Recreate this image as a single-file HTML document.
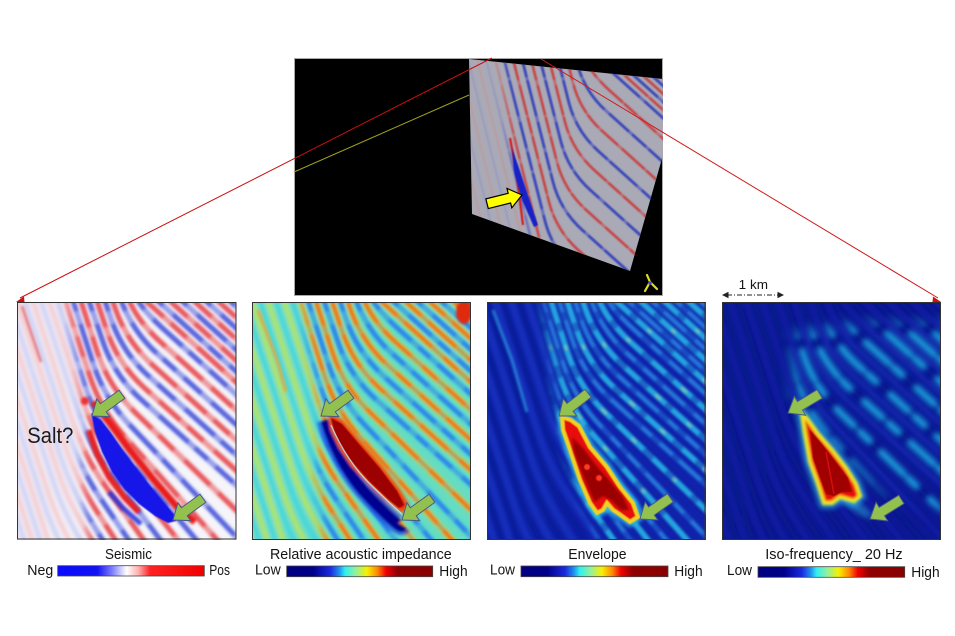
<!DOCTYPE html>
<html><head><meta charset="utf-8"><style>
html,body{margin:0;padding:0;background:#fff;}
svg{display:block;}
text{font-family:"Liberation Sans",Arial,sans-serif;fill:#141414;}
</style></head><body>
<svg width="955" height="636" viewBox="0 0 955 636" xmlns="http://www.w3.org/2000/svg" xmlns:xlink="http://www.w3.org/1999/xlink">
<defs>
 <filter id="b05" x="-20%" y="-20%" width="140%" height="140%"><feGaussianBlur stdDeviation="0.6"/></filter>
 <filter id="b08" x="-20%" y="-20%" width="140%" height="140%"><feGaussianBlur stdDeviation="0.8"/></filter>
 <filter id="b1" x="-20%" y="-20%" width="140%" height="140%"><feGaussianBlur stdDeviation="1.3"/></filter>
 <filter id="b2" x="-20%" y="-20%" width="140%" height="140%"><feGaussianBlur stdDeviation="2"/></filter>
 <filter id="b3" x="-30%" y="-30%" width="160%" height="160%"><feGaussianBlur stdDeviation="3"/></filter>
 <filter id="b5" x="-30%" y="-30%" width="160%" height="160%"><feGaussianBlur stdDeviation="5"/></filter>
 <filter id="b7" x="-30%" y="-30%" width="160%" height="160%"><feGaussianBlur stdDeviation="7"/></filter>

 <clipPath id="pc"><rect x="0" y="0" width="219" height="238"/></clipPath>
 <clipPath id="cp"><polygon points="469,59 663,79 663,155 630,271 472,214"/></clipPath>

 <mask id="m1" maskUnits="userSpaceOnUse" x="-40" y="-40" width="300" height="320">
  <polygon points="46,-20 250,-20 250,260 74,260 64,175 68,112" fill="#fff" filter="url(#b5)"/>
 </mask>
 <mask id="m3" maskUnits="userSpaceOnUse" x="-40" y="-40" width="300" height="320">
  <polygon points="52,-20 250,-20 250,260 120,260 84,175 70,110" fill="#fff" filter="url(#b5)"/>
 </mask>
 <mask id="m4" maskUnits="userSpaceOnUse" x="-40" y="-40" width="300" height="320">
  <polygon points="70,32 120,22 240,22 240,205 205,212 150,180 105,135 72,100" fill="#fff" filter="url(#b7)"/>
 </mask>
 <mask id="mp" maskUnits="userSpaceOnUse" x="440" y="30" width="260" height="290">
  <polygon points="500,50 680,50 680,290 545,290 512,160" fill="#fff" filter="url(#b5)"/>
 </mask>

 <linearGradient id="gs" x1="0" y1="0" x2="1" y2="0">
  <stop offset="0" stop-color="#0a0aff"/><stop offset="0.27" stop-color="#1212f2"/>
  <stop offset="0.37" stop-color="#7c7cff"/><stop offset="0.47" stop-color="#ffffff"/>
  <stop offset="0.55" stop-color="#ffb0b0"/><stop offset="0.63" stop-color="#ff2222"/>
  <stop offset="1" stop-color="#f20000"/>
 </linearGradient>
 <linearGradient id="gj" x1="0" y1="0" x2="1" y2="0">
  <stop offset="0" stop-color="#00007f"/><stop offset="0.18" stop-color="#00008a"/>
  <stop offset="0.30" stop-color="#1a2ae0"/><stop offset="0.36" stop-color="#2090f0"/>
  <stop offset="0.40" stop-color="#30f0f0"/><stop offset="0.47" stop-color="#90f0a0"/>
  <stop offset="0.55" stop-color="#f8f000"/><stop offset="0.62" stop-color="#ff8a00"/>
  <stop offset="0.68" stop-color="#f00000"/><stop offset="0.76" stop-color="#900000"/>
  <stop offset="1" stop-color="#880000"/>
 </linearGradient>

 <g id="P" fill="none" stroke-linejoin="round" stroke-linecap="round">
  <path d="M-83 -10L3 250"/>
  <path d="M-67 -10L19 250"/>
  <path d="M-51 -10L35 250"/>
  <path d="M-35 -10L30.6 188.8Q42 223 61.1 253.6L82 287"/>
  <path d="M-19 -10L39.6 165.8Q51 200 70.1 230.6L111 296"/>
  <path d="M-3 -10L47.6 142.8Q59 177 78.5 207.3L139 301"/>
  <path d="M13 -10L55.6 119.8Q67 154 87.9 183.4L177 309"/>
  <path d="M29 -10L64.6 96.8Q76 131 98.4 159.2L226 320"/>
  <path d="M45 -10L72.6 73.8Q84 108 108 134.9L244 287"/>
  <path d="M61 -10L80.6 50.8Q92 85 117.8 110.1L252 240"/>
  <path d="M77 -10L89.6 27.8Q101 62 127.7 86.2L261 206"/>
  <path d="M93 -10L97.6 4.8Q109 39 135.7 63.2L269 183"/>
  <path d="M109 -10Q117 16 143.7 40.2L277 160"/>
  <path d="M119 -10L290 144"/>
  <path d="M143 -10L314 144"/>
  <path d="M167 -10L338 144"/>
  <path d="M191 -10L362 144"/>
 </g>
 <g id="N" fill="none" stroke-linejoin="round" stroke-linecap="round">
  <path d="M-75 -10L11 250"/>
  <path d="M-59 -10L27 250"/>
  <path d="M-43 -10L26.6 200.8Q38 235 57.1 265.6L68 283"/>
  <path d="M-27 -10L35.6 177.8Q47 212 66.1 242.6L97 292"/>
  <path d="M-11 -10L43.6 154.8Q55 189 74.1 219.6L125 301"/>
  <path d="M5 -10L51.6 131.8Q63 166 83.1 195.9L153 299"/>
  <path d="M21 -10L60.6 108.8Q72 143 93.6 171.8L202 316"/>
  <path d="M37 -10L68.6 85.8Q80 120 103.1 147.6L240 310"/>
  <path d="M53 -10L76.6 62.8Q88 97 112.9 123.1L248 265"/>
  <path d="M69 -10L85.6 38.8Q97 73 123.7 97.2L257 217"/>
  <path d="M85 -10L93.6 15.8Q105 50 131.7 74.2L265 194"/>
  <path d="M101 -10Q113 27 139.7 51.2L273 171"/>
  <path d="M117 -10Q121 4 147.7 28.2L281 148"/>
  <path d="M131 -10L302 144"/>
  <path d="M155 -10L326 144"/>
  <path d="M179 -10L350 144"/>
  <path d="M203 -10L374 144"/>
 </g>

 <g id="QP" fill="none" stroke-linejoin="round">
  <path d="M440 55L501 300"/><path d="M458 55L519 300"/><path d="M476 55L537 300"/>
  <path d="M494 55L539.7 239.9Q547 269 569.3 289.1L667 377"/>
  <path d="M512 55L548.7 200.9Q556 230 578.3 250.1L676 338"/>
  <path d="M530 55L556.7 160.9Q564 190 586.3 210.1L684 298"/>
  <path d="M548 55L564.7 120.9Q572 150 594.3 170.1L692 258"/>
  <path d="M566 55L572.7 81.9Q580 111 602.3 131.1L700 219"/>
  <path d="M584 55Q588 71 610.3 91.1L708 179"/>
  <path d="M602 55L722 163"/><path d="M620 55L740 163"/><path d="M638 55L758 163"/>
 </g>
 <g id="QN" fill="none" stroke-linejoin="round">
  <path d="M449 55L510 300"/><path d="M467 55L528 300"/><path d="M485 55L546 300"/>
  <path d="M503 55L544.7 219.9Q552 249 574.3 269.1L672 357"/>
  <path d="M521 55L552.7 180.9Q560 210 582.3 230.1L680 318"/>
  <path d="M539 55L560.7 140.9Q568 170 590.3 190.1L688 278"/>
  <path d="M557 55L568.7 101.9Q576 131 598.3 151.1L696 239"/>
  <path d="M575 55L576.7 61.9Q584 91 606.3 111.1L704 199"/>
  <path d="M593 55L713 163"/><path d="M611 55L731 163"/><path d="M629 55L749 163"/>
 </g>

 <polygon id="ga" points="0,0 -14,-11 -14,-5 -37,-5 -37,5 -14,5 -14,11"/>
 <polygon id="envblob" points="75,115 84,118 92,124 103,145 120,165 133,185 146,201 151,215 143,220 132,212 126,208 120,201 116,208 110,211 103,201 93,178 83,148 76,128"/>
 <polygon id="isoblob" points="80,111 86,118 96,132 110,148 124,166 134,182 138,194 132,199 118,195 110,201 102,201 96,182 88,160 83,132"/>
</defs>

<rect width="955" height="636" fill="#fff"/>

<!-- ============ TOP 3D VIEW ============ -->
<rect x="294.5" y="58.5" width="368" height="237" fill="#000" stroke="#a8a8a8" stroke-width="1"/>
<g clip-path="url(#cp)">
 <rect x="460" y="50" width="210" height="230" fill="#aaaab6"/>
 <g filter="url(#b08)">
  <use href="#QP" stroke="#c49494" stroke-width="2.2" opacity=".55"/>
  <use href="#QN" stroke="#9092c6" stroke-width="2.2" opacity=".55"/>
 </g>
 <g mask="url(#mp)"><g filter="url(#b08)">
  <use href="#QP" stroke="#c83030" stroke-width="2.6" opacity=".8"/>
  <use href="#QN" stroke="#2c3ab8" stroke-width="2.8" opacity=".85"/>
  <use href="#QP" stroke="#aaaab6" stroke-width="3" stroke-dasharray="3 23 5 31 2 17" opacity=".4"/>
  <use href="#QN" stroke="#aaaab6" stroke-width="3" stroke-dasharray="4 19 3 37 6 27" opacity=".4"/>
 </g></g>
 <path d="M510 138L516 170L523 225" stroke="#d81c1c" stroke-width="2.2" fill="none" filter="url(#b05)"/>
 <polygon points="512,148 518,165 528,195 538,225 534,227 522,200 514,172" fill="#1424c8" filter="url(#b05)"/>
</g>
<line x1="294" y1="172" x2="469" y2="95" stroke="#a0a020" stroke-width="1"/>
<line x1="20" y1="298" x2="492" y2="58" stroke="#c81010" stroke-width="1"/>
<line x1="541" y1="59" x2="938" y2="298" stroke="#d01818" stroke-width="1"/>
<polygon points="16,302 24,296.5 24.5,302" fill="#d01010"/>
<polygon points="941,302 933,296.5 932.5,302" fill="#d01010"/>
<polygon points="0,0 -13,-10 -13,-5 -36,-5 -36,5 -13,5 -13,10" transform="translate(522,195) rotate(-14)" fill="#ffff00" stroke="#000" stroke-width="1.2" stroke-linejoin="miter"/>
<g stroke="#e2dc20" stroke-width="2.2" stroke-linecap="round">
 <line x1="645" y1="291" x2="650" y2="282"/><line x1="650" y1="282" x2="657" y2="289"/><line x1="650" y1="282" x2="647" y2="275"/>
</g>
<circle cx="650" cy="283" r="1.8" fill="#4050d0"/>

<!-- ============ PANEL 1: SEISMIC ============ -->
<g transform="translate(17,302)">
 <g clip-path="url(#pc)">
  <rect width="219" height="238" fill="#f5f5fa"/>
  <g filter="url(#b2)">
   <use href="#P" stroke="#f2a8ac" stroke-width="4.5" opacity=".6"/>
   <use href="#N" stroke="#acb2ee" stroke-width="4.5" opacity=".6"/>
  </g>
  <g mask="url(#m1)"><g filter="url(#b1)">
   <use href="#P" stroke="#e43034" stroke-width="5" opacity=".75"/>
   <use href="#N" stroke="#3040d6" stroke-width="5" opacity=".75"/>
   <use href="#P" stroke="#f5f5fa" stroke-width="5.5" stroke-dasharray="6 34 4 27 9 41" opacity=".4"/>
   <use href="#N" stroke="#f5f5fa" stroke-width="5.5" stroke-dasharray="5 29 8 45 3 23" stroke-dashoffset="11" opacity=".4"/>
  </g></g>
  <g filter="url(#b1)">
   <path d="M5 4L24 60" stroke="#e04040" stroke-width="2.5" opacity=".7" fill="none"/>
   <path d="M76 100L92 120L112 147L136 177L160 205L178 220" stroke="#e81c1c" stroke-width="7" fill="none" stroke-linejoin="round"/>
   <path d="M72 128L80 152L92 175L108 196L122 210" stroke="#e82020" stroke-width="6" fill="none" stroke-linejoin="round"/>
   <path d="M92 190L106 206L124 222" stroke="#2030e0" stroke-width="5" opacity=".85" fill="none"/>
   <circle cx="68" cy="99" r="4" fill="#e83030"/>
  </g>
  <polygon points="74,111 84,118 94,131 105,147 118,164 132,182 146,199 157,212 159,219 151,221 138,214 122,202 107,187 95,170 85,150 78,130" fill="#1414e8" filter="url(#b05)"/>
 </g>
 <rect x="0.5" y="0.5" width="218.5" height="236.5" fill="none" stroke="#333" stroke-width="1"/>
</g>

<!-- ============ PANEL 2: RELATIVE AI ============ -->
<g transform="translate(252,302)">
 <g clip-path="url(#pc)">
  <rect width="219" height="238" fill="#66dcc2"/>
  <g filter="url(#b2)">
   <use href="#P" stroke="#d2e846" stroke-width="5" opacity=".8"/>
   <use href="#N" stroke="#36d4ec" stroke-width="5" opacity=".7"/>
  </g>
  <g mask="url(#m1)"><g filter="url(#b1)">
   <use href="#P" stroke="#f49020" stroke-width="5.2" opacity=".9"/>
   <use href="#P" stroke="#e44a18" stroke-width="2" opacity=".6"/>
   <use href="#N" stroke="#2a6cec" stroke-width="4.8" opacity=".75"/>
   <use href="#P" stroke="#66dcc2" stroke-width="5.5" stroke-dasharray="7 31 4 43 10 25" opacity=".4"/>
   <use href="#N" stroke="#66dcc2" stroke-width="5.5" stroke-dasharray="5 27 9 36 4 21" stroke-dashoffset="9" opacity=".4"/>
  </g></g>
  <g filter="url(#b1)">
   <path d="M6 8L25 58L34 90" stroke="#f0a020" stroke-width="3" opacity=".8" fill="none"/>
   <ellipse cx="212" cy="10" rx="8" ry="12" fill="#e02a10"/>
   <path d="M74 118Q88 165 118 196T150 224" stroke="#1a48e8" stroke-width="18" opacity=".7" fill="none"/>
   <path d="M74 118Q88 165 118 196T150 224" stroke="#000090" stroke-width="11" fill="none"/>
   <polygon points="77,112 90,119 108,140 128,163 147,188 156,203 150,210 138,200 118,182 100,163 88,145 80,128" fill="#e81818" stroke="#f06010" stroke-width="3"/>
  </g>
  <polygon points="79,116 90,122 107,142 127,165 145,189 152,203 147,206 137,198 118,180 101,161 89,144 82,128" fill="#9c0000" filter="url(#b05)"/>
  <path d="M79 123Q95 160 120 184T150 212" stroke="#b0f4ff" stroke-width="1.3" fill="none" opacity=".8"/>
 </g>
 <rect x="0.5" y="0.5" width="218" height="237" fill="none" stroke="#333" stroke-width="1"/>
</g>

<!-- ============ PANEL 3: ENVELOPE ============ -->
<g transform="translate(487,302)">
 <g clip-path="url(#pc)">
  <rect width="219" height="238" fill="#1122aa"/>
  <g filter="url(#b2)">
   <use href="#P" stroke="#08108a" stroke-width="5" opacity=".6"/>
   <use href="#N" stroke="#2446dc" stroke-width="4" opacity=".5"/>
  </g>
  <g mask="url(#m3)"><g filter="url(#b1)">
   <use href="#P" stroke="#2cc6f2" stroke-width="6" opacity=".8"/>
   <use href="#N" stroke="#30b4ee" stroke-width="4.5" opacity=".55"/>
   <use href="#P" stroke="#1122aa" stroke-width="6" stroke-dasharray="6 29 4 41 8 23" opacity=".45"/>
   <use href="#N" stroke="#1122aa" stroke-width="5" stroke-dasharray="7 21 5 33 9 17" stroke-dashoffset="5" opacity=".45"/>
   <use href="#P" stroke="#c8f070" stroke-width="2.5" stroke-dasharray="4 53 3 71 5 37" opacity=".5"/>
  </g></g>
  <path d="M6 8L25 58L40 110" stroke="#30b8f0" stroke-width="3" opacity=".6" fill="none" filter="url(#b1)"/>
  <use href="#envblob" fill="none" stroke="#30d0f0" stroke-width="9" opacity=".8" filter="url(#b2)"/>
  <use href="#envblob" fill="#e81010" stroke="#f0d020" stroke-width="4" filter="url(#b05)"/>
  <polygon points="85,135 96,146 108,162 122,178 136,195 142,208 134,208 124,198 116,194 108,200 102,188 94,168 87,150" fill="#9a0000" filter="url(#b1)"/>
  <circle cx="100" cy="165" r="3" fill="#ff3a20" filter="url(#b05)"/>
  <circle cx="112" cy="176" r="3" fill="#ff3a20" filter="url(#b05)"/>
 </g>
 <rect x="0.5" y="0.5" width="217.5" height="237" fill="none" stroke="#333" stroke-width="1"/>
</g>

<!-- ============ PANEL 4: ISO-FREQUENCY ============ -->
<g transform="translate(722,302)">
 <g clip-path="url(#pc)">
  <rect width="219" height="238" fill="#0c1894"/>
  <g filter="url(#b2)">
   <use href="#N" stroke="#1626b4" stroke-width="4" opacity=".5"/>
   <use href="#P" stroke="#08107e" stroke-width="4" opacity=".5"/>
  </g>
  <g mask="url(#m4)"><g filter="url(#b3)">
   <use href="#P" stroke="#24c4f0" stroke-width="7" stroke-dasharray="24 9 13 16 31 7 11 19" opacity=".8"/>
   <use href="#N" stroke="#1a4ad0" stroke-width="4" opacity=".3"/>
  </g></g>
  <ellipse cx="135" cy="205" rx="18" ry="5" transform="rotate(35 135 205)" fill="#30c8f0" opacity=".45" filter="url(#b3)"/>
  <use href="#isoblob" fill="none" stroke="#30d0f0" stroke-width="10" opacity=".7" filter="url(#b3)"/>
  <use href="#isoblob" fill="#e81010" stroke="#f0e020" stroke-width="4" filter="url(#b1)"/>
  <polygon points="88,128 100,142 114,160 126,176 130,190 120,190 112,194 104,192 98,176 91,156" fill="#a00000" filter="url(#b05)"/>
  <path d="M104 150L112 192" stroke="#d01010" stroke-width="1.5" fill="none"/>
 </g>
 <rect x="0.5" y="0.5" width="218" height="237" fill="none" stroke="#333" stroke-width="1"/>
</g>

<!-- ============ GREEN ARROWS ============ -->
<g fill="#92c150" stroke="#4b5b86" stroke-width="1" stroke-linejoin="miter">
 <use href="#ga" transform="translate(92,416) rotate(144)"/>
 <use href="#ga" transform="translate(173,520) rotate(144)"/>
 <use href="#ga" transform="translate(321,416) rotate(144)"/>
 <use href="#ga" transform="translate(402,520) rotate(144)"/>
 <use href="#ga" transform="translate(559,416) rotate(142)"/>
 <use href="#ga" transform="translate(640,519) rotate(145)"/>
 <use href="#ga" transform="translate(788,413) rotate(149)"/>
 <use href="#ga" transform="translate(870,519) rotate(148)"/>
</g>

<!-- ============ TEXT & COLORBARS ============ -->
<text x="27.3" y="443" font-size="22" textLength="46" lengthAdjust="spacingAndGlyphs" style="fill:#1a1a1a">Salt?</text>

<text x="105" y="559" font-size="15" textLength="47" lengthAdjust="spacingAndGlyphs">Seismic</text>
<text x="27.3" y="575" font-size="15" textLength="26" lengthAdjust="spacingAndGlyphs">Neg</text>
<rect x="57.7" y="565.7" width="146.6" height="10.3" fill="url(#gs)" stroke="#444" stroke-width="0.8"/>
<text x="209.3" y="575" font-size="15" textLength="20.7" lengthAdjust="spacingAndGlyphs">Pos</text>

<text x="270" y="559" font-size="15" textLength="181.7" lengthAdjust="spacingAndGlyphs">Relative acoustic impedance</text>
<text x="255" y="574.5" font-size="15" textLength="25.7" lengthAdjust="spacingAndGlyphs">Low</text>
<rect x="286.7" y="566" width="146" height="10.7" fill="url(#gj)" stroke="#444" stroke-width="0.8"/>
<text x="439.3" y="576" font-size="15" textLength="28.3" lengthAdjust="spacingAndGlyphs">High</text>

<text x="568.3" y="559" font-size="15" textLength="58.3" lengthAdjust="spacingAndGlyphs">Envelope</text>
<text x="490" y="574.5" font-size="15" textLength="25" lengthAdjust="spacingAndGlyphs">Low</text>
<rect x="521" y="566" width="147" height="10.7" fill="url(#gj)" stroke="#444" stroke-width="0.8"/>
<text x="674.3" y="576" font-size="15" textLength="28.3" lengthAdjust="spacingAndGlyphs">High</text>

<text x="765.3" y="559" font-size="15" textLength="137.3" lengthAdjust="spacingAndGlyphs">Iso-frequency_ 20 Hz</text>
<text x="727" y="575" font-size="15" textLength="25" lengthAdjust="spacingAndGlyphs">Low</text>
<rect x="758" y="566.7" width="146.7" height="10.6" fill="url(#gj)" stroke="#444" stroke-width="0.8"/>
<text x="911.3" y="577" font-size="15" textLength="28.3" lengthAdjust="spacingAndGlyphs">High</text>

<text x="738.7" y="289" font-size="13" textLength="29.3" lengthAdjust="spacingAndGlyphs">1 km</text>
<line x1="727" y1="295" x2="779" y2="295" stroke="#222" stroke-width="1" stroke-dasharray="5 2 1 2"/>
<polygon points="722,295 728.5,291.8 728.5,298.2" fill="#222"/>
<polygon points="784,295 777.5,291.8 777.5,298.2" fill="#222"/>
</svg>
</body></html>
